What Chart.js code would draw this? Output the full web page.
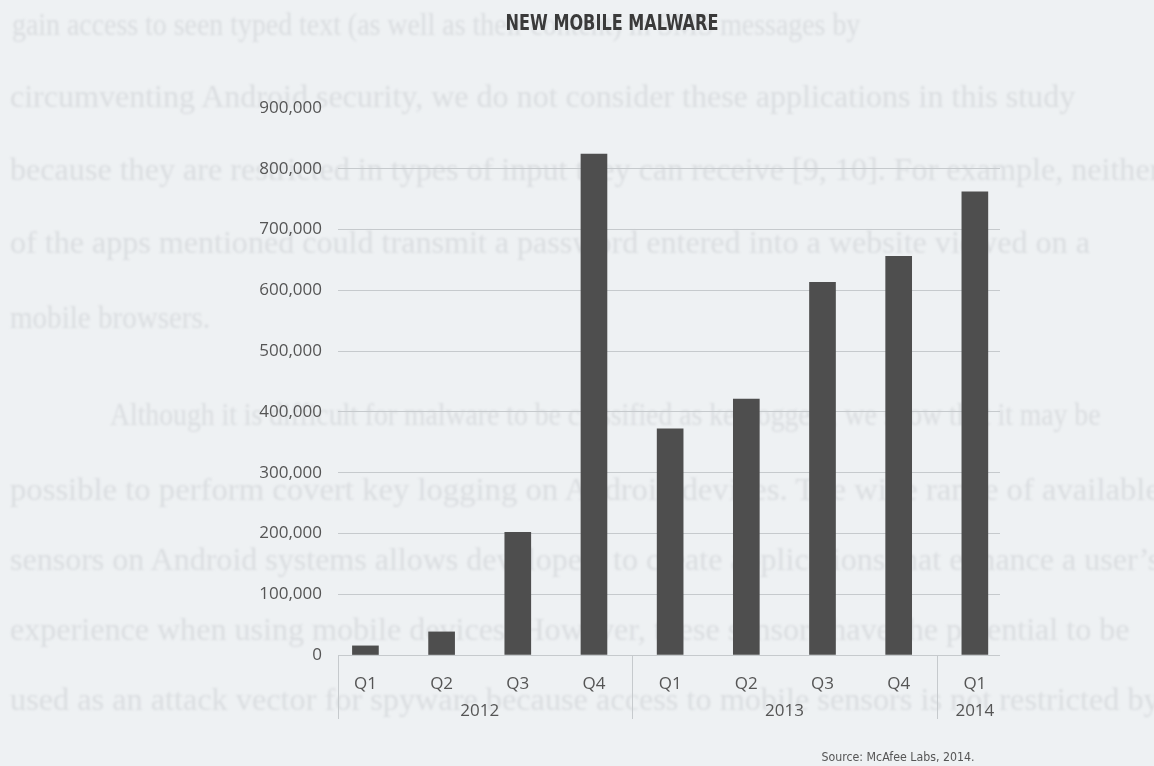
<!DOCTYPE html>
<html>
<head>
<meta charset="utf-8">
<script src="https://cdn.jsdelivr.net/npm/chart.js@4.4.1/dist/chart.umd.min.js"></script>
<style>
  html, body { margin: 0; padding: 0; background: #eef1f3; }
  #page { position: relative; width: 1154px; height: 766px; overflow: hidden; background: #eef1f3; }
  #backText { position: absolute; left: 0; top: 0; width: 1154px; height: 766px; filter: blur(1.2px); }
  #backText div {
    position: absolute; white-space: nowrap; transform-origin: 0 50%;
    font-family: "Liberation Serif", serif; font-size: 31px; color: #dadde0; line-height: 1;
  }
  #myChart { position: absolute; left: 0; top: 0; }
</style>
</head>
<body>
<div id="page">
  <div id="backText"></div>
  <canvas id="myChart" width="1154" height="766"></canvas>
</div>
<script>
const quarters = ['Q1', 'Q2', 'Q3', 'Q4', 'Q1', 'Q2', 'Q3', 'Q4', 'Q1'];
const years = ['2012', '2012', '2012', '2012', '2013', '2013', '2013', '2013', '2014'];
const newMalware = [15000, 38000, 202000, 824000, 372000, 421000, 613000, 656000, 762000];
const yTicks = [0, 100000, 200000, 300000, 400000, 500000, 600000, 700000, 800000, 900000];

// text printed on the other side of the sheet, showing through faintly
const backLines = [
  'gain access to seen typed text (as well as their content) in SMS messages by',
  'circumventing Android security, we do not consider these applications in this study',
  'because they are restricted in types of input they can receive [9, 10]. For example, neither',
  'of the apps mentioned could transmit a password entered into a website viewed on a',
  'mobile browsers.',
  'Although it is difficult for malware to be classified as keyloggers, we show that it may be',
  'possible to perform covert key logging on Android devices. The wide range of available',
  'sensors on Android systems allows developers to create applications that enhance a user\u2019s',
  'experience when using mobile devices. However, these sensors have the potential to be',
  'used as an attack vector for spyware because access to mobile sensors is not restricted by'
];
const backLayout = [
  [12, 25, 860], [10, 97, 1075], [10, 170, 1160], [10, 243, 1090], [10, 318, 210],
  [110, 415, 1100], [10, 490, 1160], [10, 560, 1160], [10, 630, 1130], [10, 700, 1160]
];
const back = document.getElementById('backText');
backLines.forEach((line, i) => {
  const d = document.createElement('div');
  d.textContent = line;
  const [x, y, right] = backLayout[i];
  d.style.left = x + 'px';
  d.style.top = (y - 16) + 'px';
  back.appendChild(d);
  const w = d.getBoundingClientRect().width;
  d.style.transform = 'scaleX(' + ((right - x) / w).toFixed(3) + ')';
});

const labelFont = { family: '"Open Sans", sans-serif', size: 17 };

// draws text squeezed to a given width around a centre point
function fitText(ctx, text, cx, cy, width) {
  const w = ctx.measureText(text).width;
  ctx.save();
  ctx.translate(cx, cy);
  ctx.scale(width / w, 1);
  ctx.fillText(text, 0, 0);
  ctx.restore();
}

// title, year row, group dividers and source note
const extras = {
  id: 'extras',
  afterDraw(chart) {
    const { ctx, chartArea } = chart;
    const xs = chart.scales.x;
    ctx.save();

    ctx.strokeStyle = '#c6cacd';
    ctx.lineWidth = 1;
    const dividers = [chartArea.left];
    for (let i = 1; i < years.length; i++) {
      if (years[i] !== years[i - 1]) dividers.push(xs.getPixelForValue(i - 0.5));
    }
    dividers.forEach(px => {
      ctx.beginPath();
      ctx.moveTo(Math.round(px) + 0.5, chartArea.bottom);
      ctx.lineTo(Math.round(px) + 0.5, 719);
      ctx.stroke();
    });

    ctx.fillStyle = '#555';
    ctx.font = '17px "Open Sans", sans-serif';
    ctx.textAlign = 'center';
    ctx.textBaseline = 'middle';
    [...new Set(years)].forEach(yr => {
      const idx = years.map((y, i) => (y === yr ? i : -1)).filter(i => i >= 0);
      const mid = idx.reduce((a, b) => a + b, 0) / idx.length;
      ctx.fillText(yr, xs.getPixelForValue(mid), 711);
    });

    ctx.fillStyle = '#3a3a3a';
    ctx.font = 'bold 21px "DejaVu Sans Condensed", "DejaVu Sans", sans-serif';
    fitText(ctx, 'NEW MOBILE MALWARE', 612, 25, 213);

    ctx.fillStyle = '#555';
    ctx.font = '12px "DejaVu Sans Condensed", "Open Sans", sans-serif';
    fitText(ctx, 'Source: McAfee Labs, 2014.', 898, 758, 153);
    ctx.restore();
  }
};

new Chart(document.getElementById('myChart').getContext('2d'), {
  type: 'bar',
  data: {
    datasets: [{
      label: 'New mobile malware',
      data: newMalware.map((v, i) => ({ x: i, y: v })),
      backgroundColor: '#4e4e4e',
      borderWidth: 0,
      barThickness: 26
    }]
  },
  options: {
    responsive: false,
    animation: false,
    layout: { padding: { left: 0, right: 154, top: 108, bottom: 0 } },
    plugins: {
      legend: { display: false },
      tooltip: { enabled: false }
    },
    scales: {
      x: {
        type: 'linear',
        offset: false,
        min: -0.36,
        max: 8.33,
        afterBuildTicks: s => { s.ticks = quarters.map((q, i) => ({ value: i })); },
        afterFit: s => { s.height = 111; },
        grid: { display: false, drawTicks: false },
        border: { display: false },
        ticks: {
          padding: 19,
          color: '#555',
          font: labelFont,
          callback: v => quarters[v]
        }
      },
      y: {
        min: 0,
        max: 900000,
        afterBuildTicks: s => { s.ticks = yTicks.map(v => ({ value: v })); },
        afterFit: s => { s.width = 338; },
        grid: {
          drawTicks: false,
          color: c => (c.tick && c.tick.value === 900000 ? 'rgba(0,0,0,0)' : '#c6cacd')
        },
        border: { display: false },
        ticks: {
          padding: 16,
          color: '#555',
          font: labelFont,
          callback: v => v.toLocaleString('en-US')
        }
      }
    }
  },
  plugins: [extras]
});
</script>
</body>
</html>
